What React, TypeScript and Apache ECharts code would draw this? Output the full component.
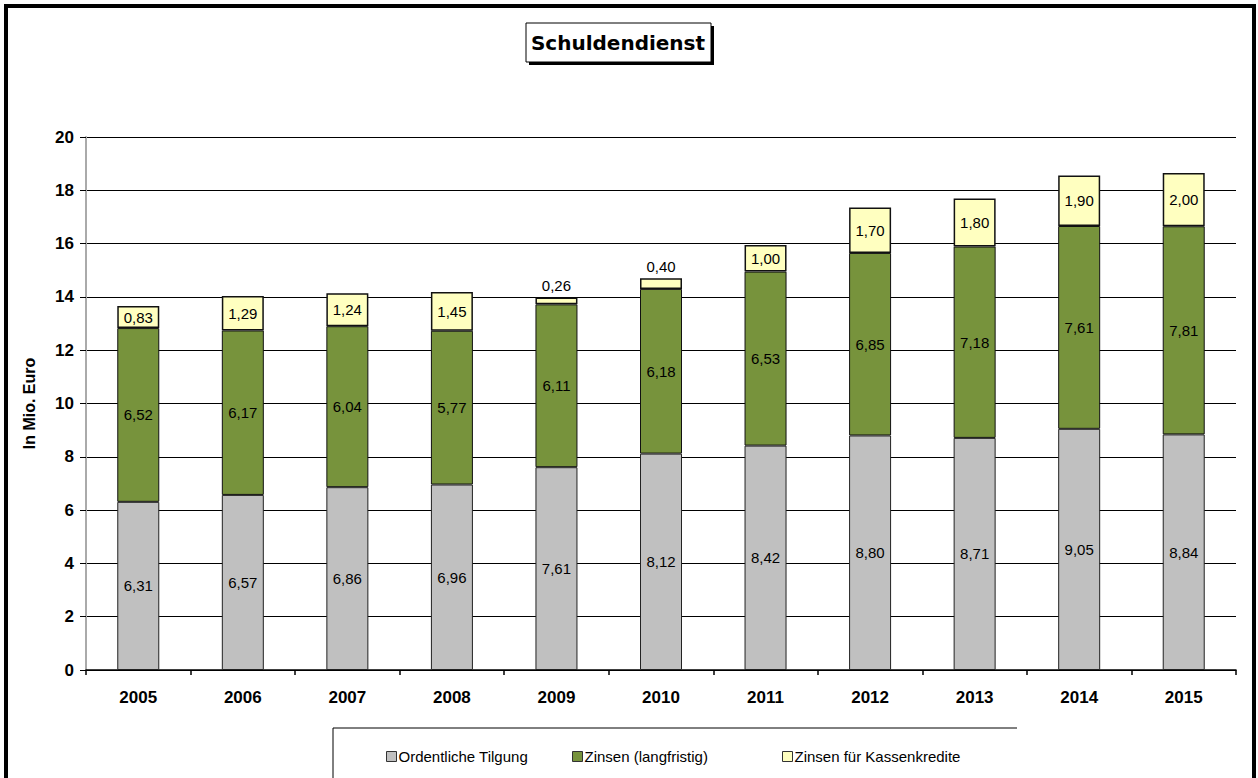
import React, { useEffect, useRef } from "react";
import * as echarts from "echarts";

const years = ["2005", "2006", "2007", "2008", "2009", "2010", "2011", "2012", "2013", "2014", "2015"];
const tilgung = [6.31, 6.57, 6.86, 6.96, 7.61, 8.12, 8.42, 8.8, 8.71, 9.05, 8.84];
const zinsen = [6.52, 6.17, 6.04, 5.77, 6.11, 6.18, 6.53, 6.85, 7.18, 7.61, 7.81];
const kassen = [0.83, 1.29, 1.24, 1.45, 0.26, 0.4, 1.0, 1.7, 1.8, 1.9, 2.0];
const seriesNames = ["Ordentliche Tilgung", "Zinsen (langfristig)", "Zinsen für Kassenkredite"];
const colors = ["#C0C0C0", "#77933C", "#FFFFC0"];

const fmt = (v: number) => v.toFixed(2).replace(".", ",");
const FONT = "'Liberation Sans', Arial, sans-serif";

export default function App() {
  const ref = useRef<HTMLDivElement>(null);
  useEffect(() => {
    const chart = echarts.init(ref.current!, null, { renderer: "svg" });
    const barBase = {
      type: "bar",
      stack: "total",
      barWidth: 42,
      emphasis: { disabled: true },
    };
    const labelBase = {
      show: true,
      fontFamily: FONT,
      fontSize: 15,
      color: "#000",
      formatter: (p: any) => fmt(p.value),
    };
    const legendBase = {
      top: 749,
      padding: 0,
      icon: "rect",
      itemWidth: 10,
      itemHeight: 10,
      itemGap: 3,
      selectedMode: false,
      itemStyle: { borderColor: "#333", borderWidth: 1 },
      textStyle: { fontFamily: FONT, fontSize: 15, color: "#000", padding: [0, 0, 0, -3] },
    };
    chart.setOption({
      animation: false,
      backgroundColor: "#fff",
      grid: { left: 86, right: 22, top: 137, bottom: 108 },
      legend: [
        { ...legendBase, left: 386, data: [seriesNames[0]] },
        { ...legendBase, left: 572, data: [seriesNames[1]] },
        { ...legendBase, left: 782, data: [seriesNames[2]] },
      ],
      xAxis: {
        type: "category",
        data: years,
        boundaryGap: true,
        axisLine: { lineStyle: { color: "#000", width: 1.5 } },
        axisTick: { show: true, length: 5, lineStyle: { color: "#000", width: 1.5 } },
        axisLabel: { fontFamily: FONT, fontSize: 17, fontWeight: "bold", color: "#000", margin: 19 },
      },
      yAxis: {
        type: "value",
        min: 0,
        max: 20,
        interval: 2,
        name: "In Mio. Euro",
        nameLocation: "middle",
        nameRotate: 90,
        nameGap: 49,
        nameTextStyle: { fontFamily: FONT, fontSize: 16, fontWeight: "bold", color: "#000" },
        axisLine: { show: true, lineStyle: { color: "#aaa", width: 2 } },
        axisTick: { show: true, length: 6, lineStyle: { color: "#000" } },
        splitLine: { lineStyle: { color: "#000", width: 1 } },
        axisLabel: { fontFamily: FONT, fontSize: 17, fontWeight: "bold", color: "#000", margin: 12 },
      },
      series: [
        {
          ...barBase,
          name: seriesNames[0],
          data: tilgung,
          itemStyle: { color: colors[0], borderColor: "#222", borderWidth: 1 },
          label: { ...labelBase, position: "inside" },
        },
        {
          ...barBase,
          name: seriesNames[1],
          data: zinsen,
          itemStyle: { color: colors[1], borderColor: "#111", borderWidth: 1 },
          label: { ...labelBase, position: "inside" },
        },
        {
          ...barBase,
          name: seriesNames[2],
          data: kassen.map((v) =>
            v < 0.5 ? { value: v, label: { position: "top", distance: 4 } } : { value: v }
          ),
          itemStyle: { color: colors[2], borderColor: "#111", borderWidth: 1.5 },
          label: { ...labelBase, position: "inside" },
        },
      ],
      graphic: [
        {
          type: "rect",
          shape: { x: 6, y: 6, width: 1248, height: 800 },
          style: { fill: "none", stroke: "#000", lineWidth: 4 },
          silent: true,
          z: 100,
        },
        {
          type: "rect",
          shape: { x: 529, y: 26, width: 185, height: 39 },
          style: { fill: "#000" },
          silent: true,
          z: 100,
        },
        {
          type: "rect",
          shape: { x: 526, y: 23, width: 185, height: 39 },
          style: { fill: "#fff", stroke: "#000", lineWidth: 1 },
          silent: true,
          z: 101,
        },
        {
          type: "text",
          x: 618,
          y: 43,
          style: {
            text: "Schuldendienst",
            fontFamily: "'DejaVu Sans', sans-serif",
            fontSize: 20,
            fontWeight: "bold",
            fill: "#000",
            align: "center",
            verticalAlign: "middle",
          },
          silent: true,
          z: 102,
        },
        {
          type: "polyline",
          shape: { points: [[333, 790], [333, 728], [1017, 728]] },
          style: { fill: "none", stroke: "#000", lineWidth: 1 },
          silent: true,
          z: 100,
        },
      ],
    });
    return () => chart.dispose();
  }, []);
  return <div ref={ref} style={{ width: 1258, height: 778, position: "absolute", left: 0, top: 0 }} />;
}
